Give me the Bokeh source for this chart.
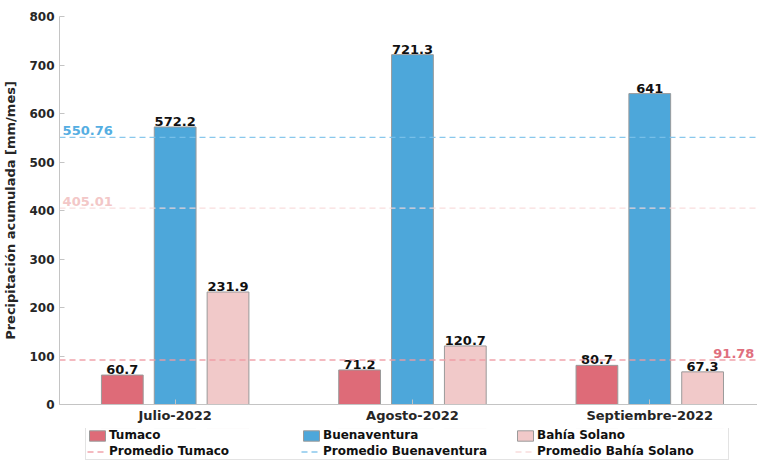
from bokeh.plotting import figure
from bokeh.layouts import column
from bokeh.models import ColumnDataSource, FixedTicker, Range1d, Legend, LegendItem
from bokeh.core.properties import value
from bokeh.embed import file_html
from bokeh.resources import INLINE

# ---- data ----
months = ["Julio-2022", "Agosto-2022", "Septiembre-2022"]
stations = ["Tumaco", "Buenaventura", "Bahía Solano"]
tumaco = [60.7, 71.2, 80.7]
buenaventura = [572.2, 721.3, 641]
bahia_solano = [231.9, 120.7, 67.3]
averages = [91.78, 550.76, 405.01]
avg_labels = ["91.78", "550.76", "405.01"]
y_ticks = [0, 100, 200, 300, 400, 500, 600, 700, 800]

series = [tumaco, buenaventura, bahia_solano]

FONT = "DejaVu Sans"
bar_colors = ["#DE6B78", "#4DA7DA", "#F1C9C9"]
avg_colors = ["#EE9AA3", "#7CC2EA", "#F7D9D9"]
avg_text_colors = ["#E06F7E", "#55AEE2", "#F3C7C7"]
offsets = [-0.2227, 0.0, 0.2227]
bar_w = 0.176
x_start, x_end = -0.4874, 2.454
BAR_LINE = "#9a9a9a"
DASH = "6 4"

p = figure(width=757, height=428, output_backend="svg", toolbar_location=None,
           x_range=Range1d(x_start, x_end), y_range=Range1d(0, 800),
           min_border_left=57, min_border_right=0, min_border_top=16, min_border_bottom=24)
p.outline_line_color = None
p.grid.visible = False
p.background_fill_color = "white"
p.border_fill_color = "white"

group_idx = list(range(len(months)))
sources = []
for i, vals in enumerate(series):
    xs = [g + offsets[i] for g in group_idx]
    src = ColumnDataSource(dict(x=xs, top=vals, lab=[f"{v:g}" for v in vals]))
    sources.append(src)
    p.vbar(x="x", top="top", width=bar_w, source=src, fill_color=bar_colors[i],
           line_color=BAR_LINE, line_width=1)
    p.text(x="x", y="top", text="lab", source=src, text_align="center", text_baseline="bottom",
           y_offset=-1, text_font=value(FONT), text_font_style="bold", text_font_size="13px",
           text_color="#111111")

for i, a in enumerate(averages):
    p.segment(x0=[x_start], x1=[x_end], y0=[a], y1=[a], line_color=avg_colors[i],
              line_width=1.3, line_dash=DASH, line_alpha=0.9)
    left = i != 0
    p.text(x=[x_start + 0.013 if left else x_end - 0.013], y=[a], text=[avg_labels[i]],
           text_align="left" if left else "right", text_baseline="bottom", y_offset=-2,
           text_font=value(FONT), text_font_style="bold", text_font_size="13px",
           text_color=avg_text_colors[i])

# axes
xa = p.xaxis[0]
xa.ticker = FixedTicker(ticks=group_idx)
xa.major_label_overrides = {g: m for g, m in zip(group_idx, months)}
ya = p.yaxis[0]
ya.ticker = FixedTicker(ticks=y_ticks)
ya.axis_label = "Precipitación acumulada [mm/mes]"
ya.axis_label_text_font = FONT
ya.axis_label_text_font_style = "bold"
ya.axis_label_text_font_size = "13px"
ya.axis_label_text_color = "#262626"
ya.axis_label_standoff = 8
for ax in (xa, ya):
    ax.axis_line_color = "#c4c4c4"
    ax.major_tick_line_color = "#c4c4c4"
    ax.major_tick_in = 5
    ax.major_tick_out = 0
    ax.minor_tick_line_color = None
    ax.major_label_text_font = FONT
    ax.major_label_text_font_style = "bold"
    ax.major_label_text_color = "#262626"
    ax.major_label_standoff = 5
xa.major_label_standoff = 3
xa.major_label_text_font_size = "13px"
ya.major_label_text_font_size = "12px"

# ---- legend strip (separate figure so the legend is not clipped by the frame) ----
# key renderers reuse the real data but fall outside this strip's (empty) y window
lg = figure(width=757, height=32, output_backend="svg", toolbar_location=None,
            x_axis_type=None, y_axis_type=None, x_range=Range1d(x_start, x_end),
            y_range=Range1d(-2, -1),
            min_border_left=57, min_border_right=0, min_border_top=0, min_border_bottom=0)
lg.outline_line_color = None
lg.grid.visible = False
bar_keys = [lg.vbar(x="x", top="top", width=bar_w, source=sources[i],
                    fill_color=bar_colors[i], line_color=BAR_LINE) for i in range(3)]
line_keys = [lg.segment(x0=[x_start], x1=[x_end], y0=[a], y1=[a], line_color=avg_colors[i],
                        line_width=1.3, line_dash=DASH, line_alpha=0.9)
             for i, a in enumerate(averages)]
items = [LegendItem(label=stations[i], renderers=[bar_keys[i]]) for i in range(3)] + \
        [LegendItem(label="Promedio " + stations[i], renderers=[line_keys[i]]) for i in range(3)]
legend = Legend(items=items, orientation="horizontal", ncols=3, location=(26, 0),
                label_text_font=FONT, label_text_font_style="bold", label_text_font_size="12px",
                label_text_color="#111111", glyph_width=20, glyph_height=13, label_height=13,
                label_standoff=2, label_width=190, padding=1, spacing=2, margin=0,
                border_line_color="#c8c8c8", border_line_width=1, background_fill_color="white")
lg.add_layout(legend, "center")

layout = column(p, lg, spacing=0)
open("out.html", "w").write(file_html(layout, INLINE))
